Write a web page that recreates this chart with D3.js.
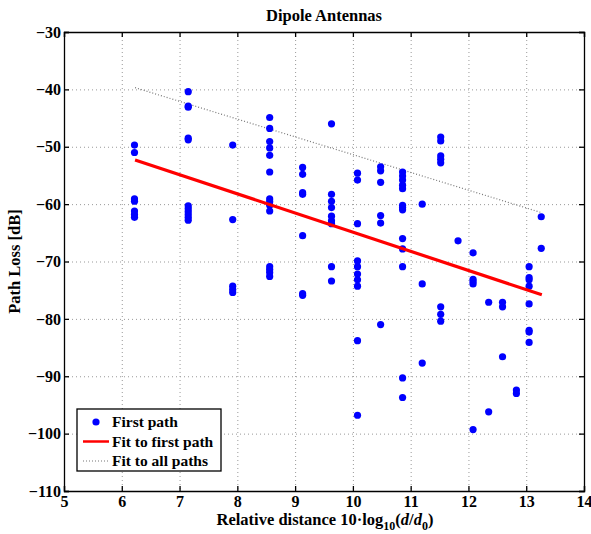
<!DOCTYPE html>
<html>
<head>
<meta charset="utf-8">
<script src="https://cdn.jsdelivr.net/npm/d3@7"></script>
<style>
  body { margin: 0; background: #fff; }
  svg text { font-family: "Liberation Serif", "Times New Roman", serif; font-weight: bold; }
</style>
</head>
<body>
<div id="chart"></div>
<script>
// Distance columns (10*log10(d/d0)) and measured path loss at each one
const distCols = [6.22, 7.15, 7.92, 8.56, 9.13, 9.63, 10.08, 10.48, 10.86, 11.2, 11.52, 11.82, 12.08, 12.35, 12.59, 12.83, 13.05, 13.26];
const lossByCol = [
    [-49.7, -51.0, -59.1, -59.5, -61.2, -61.8, -62.3],
    [-40.4, -42.9, -43.1, -48.5, -48.8, -60.3, -60.8, -61.3, -61.8, -62.3, -62.8],
    [-49.7, -62.7, -74.3, -74.9, -75.4],
    [-44.9, -46.8, -49.1, -50.2, -51.5, -54.4, -59.1, -59.6, -60.2, -61.2, -70.9, -71.4, -71.9, -72.6],
    [-53.6, -54.8, -58.0, -58.3, -65.5, -75.6, -75.9],
    [-46.0, -58.3, -59.5, -60.6, -62.1, -62.9, -63.4, -70.9, -73.4],
    [-54.6, -55.8, -63.4, -69.9, -70.9, -72.2, -73.2, -74.3, -83.8, -96.8],
    [-53.5, -54.2, -56.2, -62.0, -63.3, -81.0],
    [-54.4, -55.1, -55.8, -56.7, -57.3, -60.2, -60.6, -61.0, -66.0, -67.8, -70.9, -90.3, -93.7],
    [-60.0, -73.9, -87.7],
    [-48.3, -49.0, -51.6, -52.2, -52.8, -77.9, -79.2, -80.4],
    [-66.4],
    [-68.5, -73.1, -73.5, -73.9, -99.3],
    [-77.1, -96.2],
    [-77.1, -77.9, -86.6],
    [-92.4, -93.0],
    [-70.9, -72.8, -73.2, -74.3, -77.4, -82.0, -82.3, -84.1],
    [-62.2, -67.7]
];

// Fit line end points
const fitX = [6.23, 13.27];
const fitFirst = [-52.3, -75.8];
const fitAll = [-39.7, -61.5];

const xTicks = [5, 6, 7, 8, 9, 10, 11, 12, 13, 14];
const yTicks = [-30, -40, -50, -60, -70, -80, -90, -100, -110];
const legendLabels = ["First path", "Fit to first path", "Fit to all paths"];

const W = 591, H = 534;
const margin = { top: 32, right: 7, bottom: 43, left: 64 };
const width = W - margin.left - margin.right;
const height = H - margin.top - margin.bottom;

const svg = d3.select("#chart").append("svg")
    .attr("width", W).attr("height", H);

const g = svg.append("g").attr("transform", `translate(${margin.left},${margin.top})`);

const x = d3.scaleLinear().domain([5, 14]).range([0, width]);
const y = d3.scaleLinear().domain([-110, -30]).range([height, 0]);

// grid
const grid = g.append("g").attr("stroke", "#999").attr("stroke-width", 1).attr("stroke-dasharray", "1,3");
grid.selectAll("line.gx").data(xTicks.slice(1, -1)).join("line")
    .attr("x1", d => x(d) + 0.5).attr("x2", d => x(d) + 0.5)
    .attr("y1", 0).attr("y2", height);
grid.selectAll("line.gy").data(yTicks.slice(1, -1)).join("line")
    .attr("y1", d => y(d) + 0.5).attr("y2", d => y(d) + 0.5)
    .attr("x1", 0).attr("x2", width);

// axes (MATLAB box with inward ticks)
const fmt = d => d < 0 ? "\u2212" + Math.abs(d) : d;
const axB = g.append("g").attr("transform", `translate(0,${height})`)
    .call(d3.axisBottom(x).tickValues(xTicks).tickSize(-5).tickPadding(5).tickFormat(fmt));
const axL = g.append("g")
    .call(d3.axisLeft(y).tickValues(yTicks).tickSize(-5).tickPadding(3).tickFormat(fmt));
const axT = g.append("g")
    .call(d3.axisTop(x).tickValues(xTicks).tickSize(-5).tickFormat(""));
const axR = g.append("g").attr("transform", `translate(${width},0)`)
    .call(d3.axisRight(y).tickValues(yTicks).tickSize(-5).tickFormat(""));
[axB, axL, axT, axR].forEach(a => {
    a.selectAll("path,line").attr("stroke", "#000").attr("stroke-width", 1.3);
    a.selectAll("text").attr("font-size", 16).attr("fill", "#000")
        .attr("font-family", "Liberation Serif").attr("font-weight", "bold");
});

// fit lines
const line = d3.line().x(d => x(d[0])).y(d => y(d[1]));
g.append("path").datum(fitX.map((v, i) => [v, fitAll[i]]))
    .attr("d", line).attr("fill", "none").attr("stroke", "#777")
    .attr("stroke-width", 1.2).attr("stroke-dasharray", "1,2");

// points
const pts = distCols.flatMap((dx, i) => lossByCol[i].map(v => [dx, v]));
g.append("g").selectAll("circle").data(pts).join("circle")
    .attr("cx", d => x(d[0])).attr("cy", d => y(d[1])).attr("r", 3.6)
    .attr("fill", "#0000ff");

g.append("path").datum(fitX.map((v, i) => [v, fitFirst[i]]))
    .attr("d", line).attr("fill", "none").attr("stroke", "#ff0000")
    .attr("stroke-width", 3.2);

// title and labels
svg.append("text").attr("x", margin.left + width / 2).attr("y", 21)
    .attr("text-anchor", "middle").attr("font-size", 16.5).text("Dipole Antennas");

const xl = svg.append("text").attr("x", margin.left + width / 2 + 1).attr("y", 525)
    .attr("text-anchor", "middle").attr("font-size", 16.5);
xl.append("tspan").text("Relative distance 10\u00b7log");
xl.append("tspan").attr("font-size", 12).attr("dy", 5).text("10");
xl.append("tspan").attr("dy", -5).text("(");
xl.append("tspan").attr("font-style", "italic").text("d");
xl.append("tspan").text("/");
xl.append("tspan").attr("font-style", "italic").text("d");
xl.append("tspan").attr("font-size", 12).attr("dy", 5).text("0");
xl.append("tspan").attr("dy", -5).text(")");

svg.append("text")
    .attr("transform", `translate(20,${margin.top + height / 2}) rotate(-90)`)
    .attr("text-anchor", "middle").attr("font-size", 16.5).text("Path Loss [dB]");

// legend
const lg = svg.append("g").attr("transform", "translate(77,409)");
lg.append("rect").attr("width", 144).attr("height", 62)
    .attr("fill", "#fff").attr("stroke", "#000").attr("stroke-width", 1.3);
const rows = lg.selectAll("g.row").data(legendLabels).join("g")
    .attr("transform", (d, i) => `translate(0,${13 + i * 19.5})`);
rows.append("text").attr("x", 35).attr("y", 5).attr("font-size", 15.5).text(d => d);
rows.filter((d, i) => i === 0).append("circle").attr("cx", 19).attr("cy", 0).attr("r", 3.6).attr("fill", "#0000ff");
rows.filter((d, i) => i === 1).append("line").attr("x1", 6).attr("x2", 32)
    .attr("stroke", "#ff0000").attr("stroke-width", 2.5);
rows.filter((d, i) => i === 2).append("line").attr("x1", 6).attr("x2", 32)
    .attr("stroke", "#777").attr("stroke-width", 1.2).attr("stroke-dasharray", "1,2");
</script>
</body>
</html>
